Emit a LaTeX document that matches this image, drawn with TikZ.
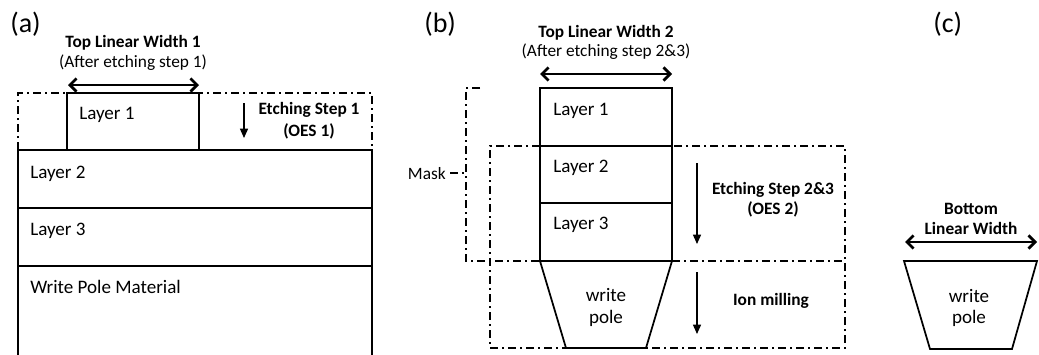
\documentclass[tikz,border=0pt]{standalone}
\usepackage{fontspec}
\setmainfont{Carlito}
\usetikzlibrary{arrows.meta}
\tikzset{
  layerline/.style={line width=1.3pt, draw=black},
  dashdot/.style={line width=1pt, dash pattern=on 6pt off 3pt on 1.5pt off 3pt},
  widtharrow/.style={line width=2pt, {Straight Barb[length=5pt,width=10pt]}-{Straight Barb[length=5pt,width=10pt]}},
  etcharrow/.style={line width=1pt, -{Triangle[length=7pt,width=6pt]}},
  layertxt/.style={anchor=base west, inner sep=0pt, font=\fontsize{14.3}{17}\selectfont},
  poletxt/.style={anchor=base, inner sep=0pt, font=\fontsize{14.3}{17}\selectfont},
  boldtxt/.style={anchor=base, inner sep=0pt, font=\fontsize{13}{16}\selectfont\bfseries},
  plaintxt/.style={anchor=base, inner sep=0pt, font=\fontsize{13}{16}\selectfont},
  paneltxt/.style={anchor=base west, inner sep=0pt, font=\fontsize{21}{24}\selectfont},
}
\begin{document}
\begin{tikzpicture}[x=0.75pt, y=-0.75pt]
\useasboundingbox (0,0) rectangle (1039,354);

% ---------------- panel (a) ----------------
\node[paneltxt] (pa) at (10,32) {(a)};
\node[boldtxt] (tlw1) at (133,47) {Top Linear Width 1};
\node[plaintxt] (aft1) at (133,67) {(After etching step 1)};
\coordinate (a1l) at (68,85);
\coordinate (a1r) at (199,85);
\draw[widtharrow] (a1l) -- (a1r);

% etching window of step 1
\draw[dashdot] (18,150) -- (18,93) -- (372,93) -- (372,150);

% layer stack
\draw[layerline] (67,150) -- (67,93) -- (199,93) -- (199,150);
\draw[layerline] (18,150) rectangle (372,208);
\draw[layerline] (18,208) rectangle (372,266);
\draw[layerline] (18,266) -- (18,356);
\draw[layerline] (372,266) -- (372,356);

\node[layertxt] (a-l1) at (79,119) {Layer 1};
\node[layertxt] (a-l2) at (30,178) {Layer 2};
\node[layertxt] (a-l3) at (30,235) {Layer 3};
\node[layertxt] (a-wp) at (30,293) {Write Pole Material};

\coordinate (e1t) at (244,103);
\coordinate (e1b) at (244,138);
\draw[etcharrow] (e1t) -- (e1b);
\node[boldtxt] (es1) at (309,114) {Etching Step 1};
\node[boldtxt] (oes1) at (309,136) {(OES 1)};

% ---------------- panel (b) ----------------
\node[paneltxt] (pb) at (424,32) {(b)};
\node[boldtxt] (tlw2) at (606,37) {Top Linear Width 2};
\node[plaintxt] (aft2) at (606,56) {(After etching step 2\&3)};
\coordinate (a2l) at (540,74);
\coordinate (a2r) at (672,74);
\draw[widtharrow] (a2l) -- (a2r);

% mask bracket
\draw[dashdot] (480,88) -- (466,88) -- (466,261) -- (540,261);
\draw[dashdot] (672,261) -- (845,261);
\node[anchor=base east, inner sep=0pt, font=\fontsize{13}{16}\selectfont] (mask) at (446,179) {Mask};
\draw[dashdot] (450,173) -- (466,173);

% etching / milling window
\draw[dashdot] (540,146) -- (490,146) -- (490,348) -- (845,348) -- (845,146) -- (672,146);

% layer stack and write pole
\draw[layerline] (540,88) rectangle (672,146);
\draw[layerline] (540,146) rectangle (672,203);
\draw[layerline] (540,203) rectangle (672,261);
\draw[layerline] (540,261) -- (672,261) -- (646,348) -- (566,348) -- cycle;

\node[layertxt] (b-l1) at (553,115) {Layer 1};
\node[layertxt] (b-l2) at (553,172) {Layer 2};
\node[layertxt] (b-l3) at (553,229) {Layer 3};
\node[poletxt] (b-w1) at (606,301) {write};
\node[poletxt] (b-w2) at (606,323) {pole};

\coordinate (e2t) at (697,163);
\coordinate (e2b) at (697,244);
\draw[etcharrow] (e2t) -- (e2b);
\node[boldtxt] (es2) at (773,194) {Etching Step 2\&3};
\node[boldtxt] (oes2) at (773,214) {(OES 2)};

\coordinate (imt) at (697,272);
\coordinate (imb) at (697,334);
\draw[etcharrow] (imt) -- (imb);
\node[boldtxt] (ion) at (771,305) {Ion milling};

% ---------------- panel (c) ----------------
\node[paneltxt] (pc) at (933,32) {(c)};
\node[boldtxt] (bot1) at (971,214) {Bottom};
\node[boldtxt] (bot2) at (971,234) {Linear Width};
\coordinate (a3l) at (905,242);
\coordinate (a3r) at (1037,242);
\draw[widtharrow] (a3l) -- (a3r);
\draw[layerline] (904,261) -- (1037,261) -- (1012,349) -- (930,349) -- cycle;
\node[poletxt] (c-w1) at (969,302) {write};
\node[poletxt] (c-w2) at (969,323) {pole};
\end{tikzpicture}
\end{document}
